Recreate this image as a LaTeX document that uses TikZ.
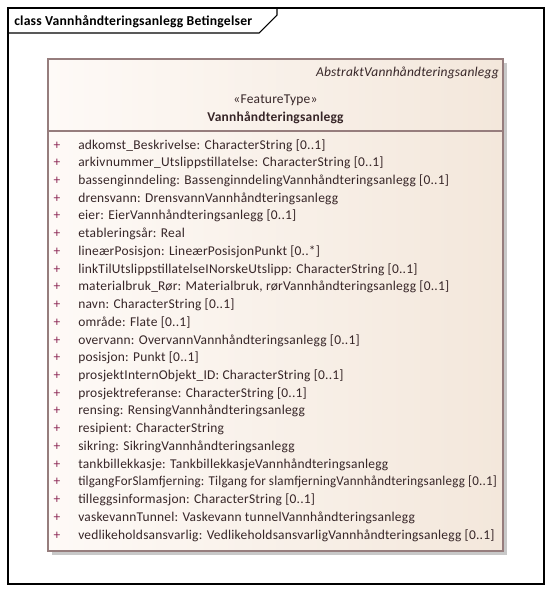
\documentclass[tikz,border=0pt]{standalone}
\usepackage{graphicx}
\usepackage{fontspec}
\setmainfont{Carlito}
\newfontfamily\umlfont[LetterSpace=1.6]{Carlito}
\definecolor{boxborder}{RGB}{150,125,125}
\definecolor{boxleft}{RGB}{254,250,247}
\definecolor{boxright}{RGB}{243,231,219}
\definecolor{shadowgray}{RGB}{200,200,200}
\definecolor{attrtext}{RGB}{55,38,40}
\definecolor{plusred}{RGB}{140,40,85}
\tikzset{
  px/.style={x=0.75pt,y=-0.75pt},
  attr/.style={anchor=base west,inner sep=0pt,text=attrtext,font=\umlfont\fontsize{10.1}{12}\selectfont},
  plus/.style={anchor=base,inner sep=0pt,text=plusred,font=\umlfont\fontsize{10.1}{12}\selectfont},
}
\begin{document}
\begin{tikzpicture}[px]
\useasboundingbox (0,0) rectangle (553,594);
% frame
\draw[line width=1.1pt] (8,8) rectangle (544,584);
\draw[line width=0.8pt] (8,33) -- (259,33) -- (277,15) -- (277,8);
\node[anchor=base west,inner sep=0pt,font=\umlfont\fontsize{10.25}{12}\selectfont\bfseries] (title) at (14,25) {class Vannhåndteringsanlegg Betingelser};
% class box
\fill[shadowgray] (52,63) rectangle (507,555);
\shade[left color=boxleft,right color=boxright] (48,59) rectangle (503,551);
\draw[boxborder,line width=0.8pt] (48,59) rectangle (503,551);
\draw[boxborder,line width=0.8pt] (48,131) -- (503,131);
\node[anchor=base east,inner sep=0pt,text=attrtext,font=\umlfont\fontsize{10.1}{12}\selectfont\itshape] (abs) at (499,76) {AbstraktVannhåndteringsanlegg};
\node[anchor=base,inner sep=0pt,text=attrtext,font=\umlfont\fontsize{10.1}{12}\selectfont] (st) at (275.5,103) {«FeatureType»};
\node[anchor=base,inner sep=0pt,text=attrtext,font=\umlfont\fontsize{10.1}{12}\selectfont\bfseries] (nm) at (275.5,121) {Vannhåndteringsanlegg};
% attributes
\foreach \i in {0,...,22} \node[plus] (p\i) at (57,149+17.73*\i) {+};
\node[attr] (a0) at (78,149) {adkomst\_Beskrivelse: CharacterString [0..1]};
\node[attr] (a1) at (78,166.73) {arkivnummer\_Utslippstillatelse: CharacterString [0..1]};
\node[attr] (a2) at (78,184.46) {bassenginndeling: BassenginndelingVannhåndteringsanlegg [0..1]};
\node[attr] (a3) at (78,202.19) {drensvann: DrensvannVannhåndteringsanlegg};
\node[attr] (a4) at (78,219.92) {eier: EierVannhåndteringsanlegg [0..1]};
\node[attr] (a5) at (78,237.65) {etableringsår: Real};
\node[attr] (a6) at (78,255.38) {lineærPosisjon: LineærPosisjonPunkt [0..*]};
\node[attr] (a7) at (78,273.11) {linkTilUtslippstillatelseINorskeUtslipp: CharacterString [0..1]};
\node[attr] (a8) at (78,290.84) {materialbruk\_Rør: Materialbruk, rørVannhåndteringsanlegg [0..1]};
\node[attr] (a9) at (78,308.57) {navn: CharacterString [0..1]};
\node[attr] (a10) at (78,326.30) {område: Flate [0..1]};
\node[attr] (a11) at (78,344.03) {overvann: OvervannVannhåndteringsanlegg [0..1]};
\node[attr] (a12) at (78,361.76) {posisjon: Punkt [0..1]};
\node[attr] (a13) at (78,379.49) {prosjektInternObjekt\_ID: CharacterString [0..1]};
\node[attr] (a14) at (78,397.22) {prosjektreferanse: CharacterString [0..1]};
\node[attr] (a15) at (78,414.95) {rensing: RensingVannhåndteringsanlegg};
\node[attr] (a16) at (78,432.68) {resipient: CharacterString};
\node[attr] (a17) at (78,450.41) {sikring: SikringVannhåndteringsanlegg};
\node[attr] (a18) at (78,468.14) {tankbillekkasje: TankbillekkasjeVannhåndteringsanlegg};
\node[attr] (a19) at (78,485.87) {\scalebox{0.965}[1]{tilgangForSlamfjerning: Tilgang for slamfjerningVannhåndteringsanlegg [0..1]}};
\node[attr] (a20) at (78,503.60) {tilleggsinformasjon: CharacterString [0..1]};
\node[attr] (a21) at (78,521.33) {vaskevannTunnel: Vaskevann tunnelVannhåndteringsanlegg};
\node[attr] (a22) at (78,539.06) {vedlikeholdsansvarlig: VedlikeholdsansvarligVannhåndteringsanlegg [0..1]};
\end{tikzpicture}
\end{document}
